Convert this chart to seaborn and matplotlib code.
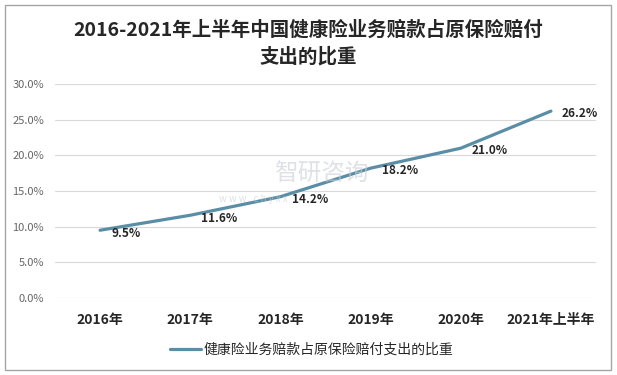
import pandas as pd
import seaborn as sns
import matplotlib.pyplot as plt
from matplotlib.patches import Rectangle
from matplotlib.ticker import FuncFormatter

sns.set_style("white")
plt.rcParams['font.family'] = ['Noto Sans CJK SC', 'DejaVu Sans']

# data
years = ['2016年', '2017年', '2018年', '2019年', '2020年', '2021年上半年']
share = [9.5, 11.6, 14.2, 18.2, 21.0, 26.2]
series_name = '健康险业务赔款占原保险赔付支出的比重'
title = '2016-2021年上半年中国健康险业务赔款占原保险赔付\n支出的比重'

df = pd.DataFrame({'year': years, 'share': share})
line_color = '#5a8ea6'

fig = plt.figure(figsize=(6.17, 3.75), dpi=100)
ax = fig.add_axes([0.0891, 0.2053, 0.8769, 0.5707])

sns.lineplot(data=df, x='year', y='share', ax=ax, color=line_color,
             linewidth=2.3, label=series_name, sort=False)

# data labels to the right of each point
for i, v in enumerate(share):
    ax.annotate(f'{v:.1f}%', (i, v), xytext=(8, -2), textcoords='offset points',
                ha='left', va='center', fontsize=8.5, fontweight='bold',
                color='#262626', zorder=5)

ax.set_xlim(-0.5, len(years) - 0.5)
ax.set_ylim(0, 30)
ax.set_yticks(range(0, 31, 5))
ax.yaxis.set_major_formatter(FuncFormatter(lambda y, _: f'{y:.1f}%'))
ax.grid(axis='y', color='#d9d9d9', linewidth=0.8)
ax.grid(axis='x', visible=False)
for s in ax.spines.values():
    s.set_visible(False)
ax.tick_params(axis='y', length=0, pad=8, labelsize=8, labelcolor='#666666')
ax.tick_params(axis='x', length=0, pad=11, labelsize=10, labelcolor='#262626')
for lbl in ax.get_xticklabels():
    lbl.set_fontweight('bold')
ax.set_xlabel('')
ax.set_ylabel('')
ax.get_legend().remove()

# watermark (kept clear of the data labels)
fig.text(0.52, 0.535, '智研咨询', fontsize=17, color='#c8ced6', alpha=0.6,
         ha='center', va='center', zorder=0)
fig.text(0.41, 0.468, 'w w w . c h y x x', fontsize=7, color='#c8ced6',
         alpha=0.6, ha='center', va='center', zorder=0)

handles, labels = ax.get_legend_handles_labels()
leg = fig.legend(handles, labels, loc='center', bbox_to_anchor=(0.505, 0.067),
                 frameon=False, fontsize=10, handlelength=2.2, handletextpad=0.2)
for t in leg.get_texts():
    t.set_color('#262626')

fig.suptitle(title, x=0.5, y=0.945, fontsize=14, fontweight='bold',
             color='#262626', linespacing=1.45)

fig.patches.append(Rectangle((0.008, 0.013), 0.983, 0.973, transform=fig.transFigure,
                             fill=False, edgecolor='#a6a6a6', linewidth=1))

plt.savefig('out.png', dpi=100)
